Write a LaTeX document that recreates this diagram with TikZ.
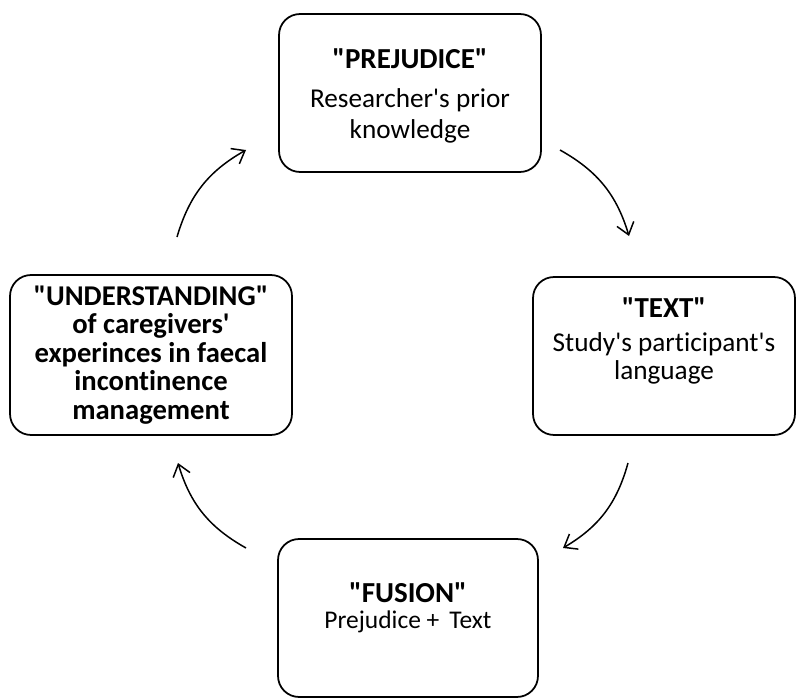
\documentclass[tikz,border=0pt]{standalone}
\usepackage{fontspec}
\setmainfont{Carlito}[Ligatures={TeXOff, NoCommon}]
\usetikzlibrary{arrows.meta}

\tikzset{
	stagebox/.style={draw, line width=1pt, rounded corners=0.42cm, inner sep=0pt},
	stagetext/.style={align=center, font=\fontsize{15.5}{17.5}\selectfont},
	cyclearrow/.style={line width=0.85pt, -{Straight Barb[length=6.5pt, width=10pt]}, bend left=22}
}
\newcommand{\stagetitle}[1]{{\fontsize{16.5}{17.5}\selectfont\bfseries #1}}

\begin{document}
\begin{tikzpicture}[x=0.02cm, y=0.02cm]
	\useasboundingbox (0, 0) rectangle (796, 698);

	% boxes
	\node[stagebox, minimum width=5.24cm, minimum height=3.16cm] (prej) at (410, 605) {};
	\node[stagebox, minimum width=5.24cm, minimum height=3.16cm] (text) at (664, 342) {};
	\node[stagebox, minimum width=5.2cm, minimum height=3.16cm] (fusion) at (408, 80) {};
	\node[stagebox, minimum width=5.64cm, minimum height=3.2cm] (und) at (151, 343) {};

	% texts
	\node[stagetext] (prejtxt) at (410, 602) {\stagetitle{"PREJUDICE"}\\[5pt] Researcher's prior\\ knowledge};
	\node[stagetext] (texttxt) at (664, 357) {\stagetitle{"TEXT"}\\[2pt] Study's participant's\\[-1.5pt] language};
	\node[stagetext] (fusiontxt) at (408, 90) {\stagetitle{"FUSION"}\\[-3pt] {\fontsize{14.5}{17}\selectfont Prejudice + \,Text}};
	\node[stagetext, font=\fontsize{16.3}{16.3}\selectfont\bfseries] (undtxt) at (151, 343) {"UNDERSTANDING"\\ of caregivers'\\ experinces in faecal\\ incontinence\\ management};

	% arrow ends
	\coordinate (a1s) at (560, 548);
	\coordinate (a1e) at (629, 462);
	\coordinate (a2s) at (628, 235);
	\coordinate (a2e) at (563, 150);
	\coordinate (a3s) at (246, 150);
	\coordinate (a3e) at (178, 235);
	\coordinate (a4s) at (177, 461);
	\coordinate (a4e) at (246, 548);

	% arrows
	\draw[cyclearrow] (a1s) to (a1e);
	\draw[cyclearrow] (a2s) to (a2e);
	\draw[cyclearrow] (a3s) to (a3e);
	\draw[cyclearrow] (a4s) to (a4e);
\end{tikzpicture}
\end{document}
